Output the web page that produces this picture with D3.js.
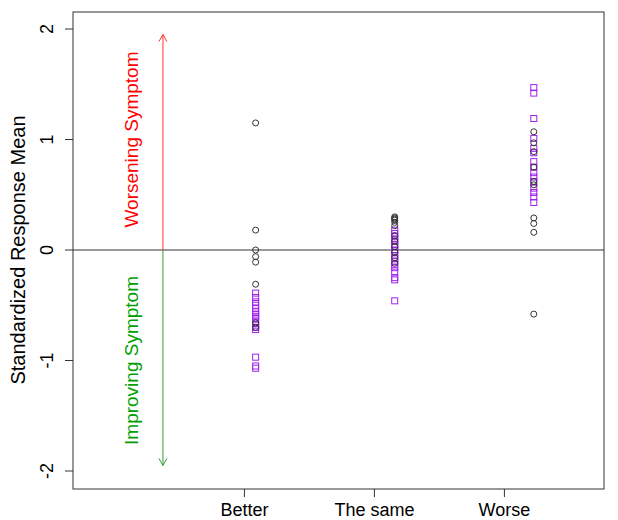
<!DOCTYPE html>
<html><head><meta charset="utf-8">
<script src="https://cdn.jsdelivr.net/npm/d3@7"></script>
<style>body{margin:0;background:#fff}svg{display:block}text{font-family:"Liberation Sans",Arial,sans-serif}</style>
</head><body><svg id="c" width="618" height="520"></svg>
<script>
const categories = ["Better", "The same", "Worse"];
const categoryTicks = [2, 3, 4];
const pointX = [2.09, 3.16, 4.23];
const yTicks = [-2, -1, 0, 1, 2];
// circles (black) per category
const circleValues = [
  [1.15, 0.18, 0.0, -0.06, -0.11, -0.31, -0.66, -0.70],
  [0.30, 0.29, 0.28, 0.27, 0.25, 0.22, 0.13, 0.08, 0.03, -0.02, -0.07, -0.12],
  [1.07, 0.97, 0.89, 0.75, 0.62, 0.59, 0.29, 0.24, 0.16, -0.58]
];
// squares (purple) per category
const squareValues = [
  [-0.39, -0.43, -0.47, -0.50, -0.53, -0.56, -0.58, -0.60, -0.62, -0.65, -0.68, -0.70, -0.72, -0.97, -1.05, -1.07],
  [0.18, 0.15, 0.12, 0.10, 0.08, 0.05, 0.03, 0.0, -0.02, -0.05, -0.08, -0.10, -0.13, -0.16, -0.20, -0.25, -0.27, -0.46],
  [1.47, 1.42, 1.19, 1.01, 0.92, 0.88, 0.80, 0.75, 0.70, 0.66, 0.62, 0.56, 0.52, 0.48, 0.43]
];

const svg = d3.select("#c");
const L = 73, R = 604, T = 12, B = 489;
const x = d3.scaleLinear().domain([0.685, 4.77]).range([L, R]);
const y = d3.scaleLinear().domain([-2.163, 2.154]).range([B, T]);
const axisCol = "#333";

// frame
svg.append("rect").attr("x", L).attr("y", T).attr("width", R - L).attr("height", B - T)
  .attr("fill", "none").attr("stroke", axisCol).attr("stroke-width", 1);

// y axis
const ya = svg.append("g").attr("transform", `translate(${L},0)`)
  .call(d3.axisLeft(y).tickValues(yTicks).tickSize(8).tickFormat(d => String(d)));
ya.select(".domain").remove();
ya.selectAll(".tick").attr("transform", null);
ya.selectAll(".tick line").attr("stroke", axisCol).attr("y1", d => y(d)).attr("y2", d => y(d));
ya.selectAll("text").attr("font-size", 18).attr("fill", "#000").attr("text-anchor", "middle")
  .attr("transform", d => `translate(-26,${y(d)}) rotate(-90)`).attr("x", 0).attr("y", 0).attr("dy", "0.35em");

// x axis
const xa = svg.append("g").attr("transform", `translate(0,${B})`)
  .call(d3.axisBottom(x).tickValues(categoryTicks).tickSize(8).tickPadding(6).tickFormat((d, i) => categories[i]));
xa.select(".domain").remove();
xa.selectAll("line").attr("stroke", axisCol);
xa.selectAll("text").attr("font-size", 18).attr("fill", "#000");

// y label
svg.append("text").attr("transform", `translate(18,${y(0)}) rotate(-90)`)
  .attr("text-anchor", "middle").attr("dy", "0.35em").attr("font-size", 20).attr("fill", "#000")
  .text("Standardized Response Mean");

// zero line
svg.append("line").attr("x1", L).attr("x2", R).attr("y1", y(0)).attr("y2", y(0))
  .attr("stroke", "#333").attr("stroke-width", 1);

// arrows
const ax = x(1.377);
function arrow(to, col) {
  svg.append("line").attr("x1", ax).attr("x2", ax).attr("y1", y(0)).attr("y2", y(to))
    .attr("stroke", col).attr("stroke-width", 1);
  const ty = y(to), dir = to > 0 ? 1 : -1;
  svg.append("path").attr("d", `M${ax - 4},${ty + dir * 7}L${ax},${ty}L${ax + 4},${ty + dir * 7}`)
    .attr("fill", "none").attr("stroke", col).attr("stroke-width", 1);
}
arrow(1.95, "#ff3030");
arrow(-1.95, "#30a030");

const tx = x(1.137);
svg.append("text").attr("transform", `translate(${tx},${y(1)}) rotate(-90)`)
  .attr("text-anchor", "middle").attr("dy", "0.35em").attr("font-size", 19).attr("fill", "#ff0000")
  .text("Worsening Symptom");
svg.append("text").attr("transform", `translate(${tx},${y(-1)}) rotate(-90)`)
  .attr("text-anchor", "middle").attr("dy", "0.35em").attr("font-size", 19).attr("fill", "#00a000")
  .text("Improving Symptom");

// squares
squareValues.forEach((vals, i) => {
  svg.append("g").selectAll("rect").data(vals).join("rect")
    .attr("x", x(pointX[i]) - 3).attr("y", d => y(d) - 3).attr("width", 6).attr("height", 6)
    .attr("fill", "none").attr("stroke", "#a020f0").attr("stroke-width", 1);
});
// circles
circleValues.forEach((vals, i) => {
  svg.append("g").selectAll("circle").data(vals).join("circle")
    .attr("cx", x(pointX[i])).attr("cy", d => y(d)).attr("r", 3)
    .attr("fill", "none").attr("stroke", "#333").attr("stroke-width", 1);
});
</script></body></html>
